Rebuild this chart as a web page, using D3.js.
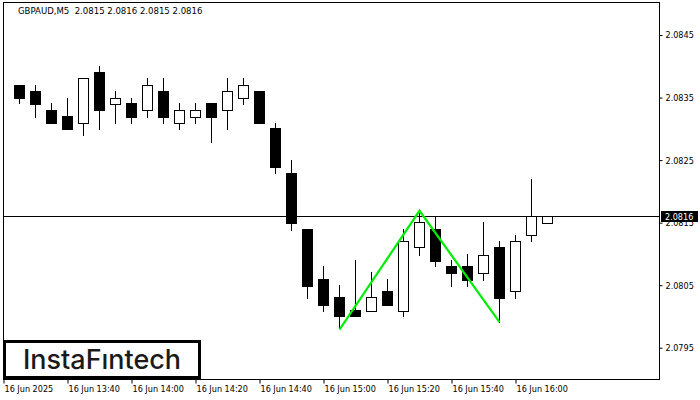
<!DOCTYPE html>
<html>
<head>
<meta charset="utf-8">
<script src="https://cdn.jsdelivr.net/npm/d3@7"></script>
<style>
html, body { margin: 0; padding: 0; background: #fff; }
svg { display: block; }
</style>
</head>
<body>
<svg id="chart" width="700" height="400"></svg>
<script>
const times = ["13:20","13:25","13:30","13:35","13:40","13:45","13:50","13:55","14:00","14:05",
  "14:10","14:15","14:20","14:25","14:30","14:35","14:40","14:45","14:50","14:55",
  "15:00","15:05","15:10","15:15","15:20","15:25","15:30","15:35","15:40","15:45",
  "15:50","15:55","16:00","16:05","16:10"];
const opens  = [2.08381,2.08370,2.08360,2.08330,2.08320,2.08310,2.08391,2.08340,2.08341,2.08330,
  2.08360,2.08310,2.08319,2.08341,2.08330,2.08350,2.08360,2.08301,2.08230,2.08140,
  2.08060,2.08031,2.08010,2.08009,2.08041,2.08009,2.08111,2.08140,2.08081,2.08081,
  2.08070,2.08111,2.08040,2.08130,2.08150];
const highs  = [2.08410,2.08370,2.08370,2.08341,2.08350,2.08381,2.08400,2.08360,2.08350,2.08381,
  2.08381,2.08341,2.08341,2.08341,2.08381,2.08381,2.08360,2.08310,2.08250,2.08140,
  2.08081,2.08050,2.08090,2.08071,2.08060,2.08140,2.08169,2.08161,2.08090,2.08100,
  2.08151,2.08121,2.08130,2.08220,2.08160];
const lows   = [2.08370,2.08341,2.08319,2.08310,2.08300,2.08290,2.08300,2.08310,2.08310,2.08319,
  2.08310,2.08300,2.08310,2.08279,2.08300,2.08340,2.08310,2.08230,2.08138,2.08030,
  2.08009,2.07981,2.08000,2.08009,2.08019,2.08000,2.08099,2.08080,2.08049,2.08049,
  2.08059,2.07991,2.08030,2.08120,2.08150];
const closes = [2.08381,2.08350,2.08340,2.08310,2.08300,2.08381,2.08330,2.08350,2.08319,2.08370,
  2.08319,2.08330,2.08330,2.08319,2.08360,2.08370,2.08310,2.08239,2.08150,2.08049,
  2.08018,2.08000,2.08000,2.08031,2.08019,2.08121,2.08151,2.08089,2.08070,2.08059,
  2.08099,2.08030,2.08121,2.08160,2.08160];

const patternIdx = [21, 26, 31];
const patternPrice = [2.07979, 2.08169, 2.07991];

const yTicks = [2.0795, 2.0805, 2.0815, 2.0825, 2.0835, 2.0845];
const xTickIdx = [0, 4, 8, 12, 16, 20, 24, 28, 32];
const xTickLabels = ["16 Jun 2025","16 Jun 13:40","16 Jun 14:00","16 Jun 14:20","16 Jun 14:40",
  "16 Jun 15:00","16 Jun 15:20","16 Jun 15:40","16 Jun 16:00"];
const currentPrice = 2.0816;
const titleText = "GBPAUD,M5  2.0815 2.0816 2.0815 2.0816";
const logoText = "InstaFıntech";

const L = 3, T = 2, R = 659, B = 379;
const svg = d3.select("#chart");
const FONT = "'DejaVu Sans Condensed', 'DejaVu Sans', sans-serif";

const x = d3.scaleLinear().domain([0, 41]).range([3.5, 659.5]);
const y = d3.scaleLinear().domain([2.0790, 2.0850]).range([379, 3.76]);
const ry = v => Math.round(y(v));

svg.append("defs").append("clipPath").attr("id", "plotclip")
  .append("rect").attr("x", L).attr("y", T).attr("width", R - L).attr("height", B - T);

const plot = svg.append("g").attr("clip-path", "url(#plotclip)");

// current price line
plot.append("line")
  .attr("x1", L).attr("x2", R)
  .attr("y1", ry(currentPrice) + 0.5).attr("y2", ry(currentPrice) + 0.5)
  .attr("stroke", "#000").attr("stroke-width", 1);

const data = times.map((t, i) => ({ t, i, o: opens[i], h: highs[i], l: lows[i], c: closes[i] }));

const cg = plot.append("g");
cg.selectAll("line.wick").data(data).enter().append("line")
  .attr("class", "wick")
  .attr("x1", d => x(d.i)).attr("x2", d => x(d.i))
  .attr("y1", d => ry(d.h)).attr("y2", d => ry(d.l) + 1)
  .attr("stroke", "#000").attr("stroke-width", 1);

cg.selectAll("rect.bear").data(data.filter(d => d.c < d.o)).enter().append("rect")
  .attr("class", "bear")
  .attr("x", d => x(d.i) - 5.5).attr("width", 11)
  .attr("y", d => ry(d.o)).attr("height", d => ry(d.c) - ry(d.o) + 1)
  .attr("fill", "#000");

cg.selectAll("rect.bull").data(data.filter(d => d.c >= d.o)).enter().append("rect")
  .attr("class", "bull")
  .attr("x", d => x(d.i) - 5).attr("width", 10)
  .attr("y", d => ry(d.c) + 0.5).attr("height", d => ry(d.o) - ry(d.c))
  .attr("fill", "#fff").attr("stroke", "#000").attr("stroke-width", 1);

// pattern line
plot.append("path")
  .datum(patternIdx.map((k, j) => [k, patternPrice[j]]))
  .attr("d", d3.line().x(d => x(d[0])).y(d => y(d[1])))
  .attr("fill", "none").attr("stroke", "#00ee00").attr("stroke-width", 2.2)
  .attr("stroke-linejoin", "miter");

// frame
svg.append("rect").attr("x", L + 0.5).attr("y", T + 0.5)
  .attr("width", R - L).attr("height", B - T)
  .attr("fill", "none").attr("stroke", "#000").attr("stroke-width", 1);

// y axis
const yAxis = svg.append("g").attr("transform", `translate(${R + 0.5},0)`)
  .call(d3.axisRight(y).tickValues(yTicks).tickSize(3).tickFormat(d3.format(".4f")));
yAxis.select(".domain").remove();
yAxis.selectAll("text").attr("x", 6).attr("dy", "0.32em")
  .style("font-family", FONT).style("font-size", "9px").attr("fill", "#000");

// x axis
const xAxis = svg.append("g").attr("transform", `translate(0,${B + 0.5})`)
  .call(d3.axisBottom(x).tickValues(xTickIdx).tickSize(4).tickFormat((d, i) => xTickLabels[i]));
xAxis.select(".domain").remove();
xAxis.selectAll("text").attr("text-anchor", "start").attr("x", 0.5).attr("y", 12.5).attr("dy", 0)
  .style("font-family", FONT).style("font-size", "9px").attr("fill", "#000");

// price label
const pyc = ry(currentPrice);
svg.append("rect").attr("x", 661).attr("y", pyc - 5).attr("width", 37).attr("height", 11).attr("fill", "#000");
svg.append("text").attr("x", 665).attr("y", pyc + 4)
  .style("font-family", FONT).style("font-size", "9px").attr("fill", "#fff")
  .text(d3.format(".4f")(currentPrice));

// title
svg.append("text").attr("x", 18).attr("y", 14)
  .style("font-family", FONT).style("font-size", "9.5px").style("white-space", "pre")
  .attr("fill", "#000")
  .text(titleText);

// logo
svg.append("rect").attr("x", 4.5).attr("y", 341.5).attr("width", 195).attr("height", 36)
  .attr("fill", "#fff").attr("stroke", "#000").attr("stroke-width", 3);
const lt = svg.append("text").attr("x", 102).attr("y", 369).attr("text-anchor", "middle")
  .style("font-family", "Inter, sans-serif").style("font-weight", 500).style("font-size", "27px")
  .attr("fill", "#1a1a1a").text(logoText);
const w = lt.node().getComputedTextLength();
if (w > 0) lt.style("font-size", (27 * 158 / w).toFixed(2) + "px");
</script>
</body>
</html>
